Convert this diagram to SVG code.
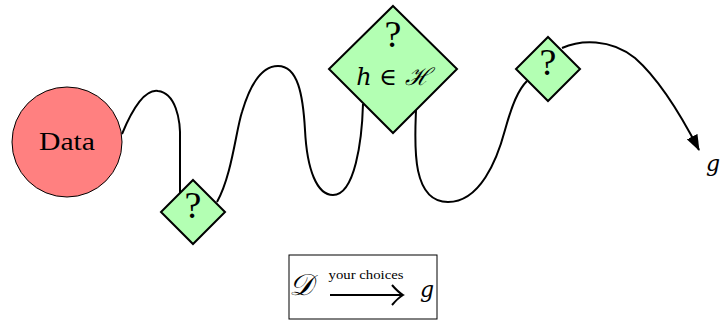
<svg xmlns="http://www.w3.org/2000/svg" width="722" height="321" viewBox="0 0 722 321">
<style>
.dia{fill:#b3ffb3;stroke:#000;stroke-width:2;stroke-linejoin:miter}
.conn{fill:none;stroke:#000;stroke-width:2}
.t{font-family:"Liberation Serif","DejaVu Serif",serif;fill:#000;text-anchor:middle}
.q{font-size:38px}
.m{font-family:"DejaVu Serif","Liberation Serif",serif;font-style:italic}
</style>
<defs>
<marker id="ah" viewBox="0 0 16 12" refX="15" refY="6" markerWidth="16" markerHeight="12" markerUnits="userSpaceOnUse" orient="auto">
<path d="M0,0 L16,6 L0,12 Z" fill="#000"/>
</marker>
</defs>
<g id="connectors">
<path class="conn" d="M122,134 C132,110 145,89 158,91 C175,93 181,118 180,142 L180,193"/>
<path class="conn" d="M217,202 C232,175 236,130 242,112 C250,85 262,66 278,66 C298,66 303,95 305,130 C307,170 317,195 333,195 C355,195 362,140 363,104"/>
<path class="conn" d="M416,110 C415,140 410,202 448,202 C480,202 497,160 505,130 C512,105 518,90 527,81"/>
<path class="conn" d="M562,48 C580,40 610,38 635,58 C660,80 682,117 699,150" marker-end="url(#ah)"/>
</g>
<g id="data">
<circle cx="67" cy="142" r="55" fill="#ff8080" stroke="#000" stroke-width="1"/>
<text class="t" x="67" y="150" font-size="26" textLength="56" lengthAdjust="spacingAndGlyphs">Data</text>
</g>
<g id="choice1">
<polygon class="dia" points="193,180 225,212 193,244 161,212"/>
<text class="t q" x="193" y="218">?</text>
</g>
<g id="hypothesis">
<polygon class="dia" points="393,6 457,69 393,133 329,69"/>
<text class="t q" x="393" y="47">?</text>
<text class="t m" x="393" y="85" font-size="24">h ∈ ℋ</text>
</g>
<g id="choice3">
<polygon class="dia" points="548,37 580,69 548,101 516,69"/>
<text class="t q" x="548" y="75">?</text>
</g>
<g id="g-output">
<text class="t m" x="713" y="171" font-size="22" text-anchor="start">g</text>
</g>
<g id="legend">
<rect x="289" y="255" width="148" height="64" fill="#fff" stroke="#000" stroke-width="1"/>
<text class="t m" x="301" y="295" font-size="30">𝒟</text>
<text class="t" x="366" y="279" font-size="13" fill="#333" textLength="75" lengthAdjust="spacingAndGlyphs">your choices</text>
<path d="M330,295 L402,295 M392,285 Q398,292 403,295 Q398,298 392,305" fill="none" stroke="#000" stroke-width="2"/>
<text class="t m" x="427" y="297" font-size="22">g</text>
</g>
</svg>
